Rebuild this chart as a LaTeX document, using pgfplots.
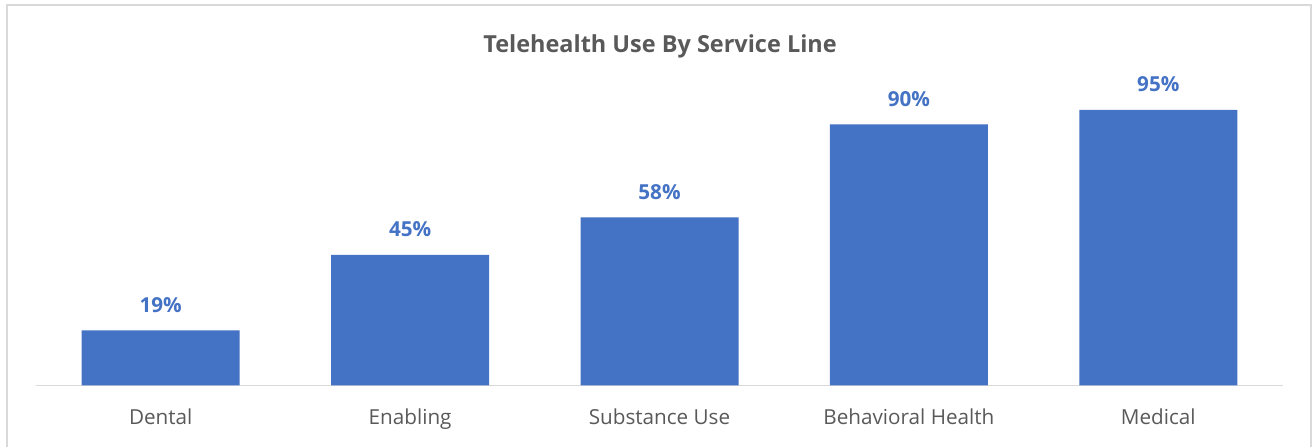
\documentclass[border=0pt]{standalone}
\usepackage{fontspec}
\setmainfont{Open Sans}
\usepackage{pgfplots}
\pgfplotsset{compat=1.18}
\definecolor{barblue}{HTML}{4472C4}
\definecolor{txtgray}{HTML}{595959}
\definecolor{linegray}{HTML}{D9D9D9}
\begin{document}
\begin{tikzpicture}
\useasboundingbox (-27pt,-46.1pt) rectangle (957pt,289.1pt);
\draw[linegray, line width=1.5pt] (-21.75pt,-60pt) -- (-21.75pt,285.4pt) -- (956.25pt,285.4pt) -- (956.25pt,-60pt);
\begin{axis}[
  at={(0,0)}, anchor=south west,
  scale only axis,
  width=935.25pt, height=217.5pt,
  ymin=0, ymax=100,
  xmin=-0.5, xmax=4.5,
  axis y line=none,
  axis x line*=bottom,
  x axis line style={linegray, line width=1pt, -},
  xtick=data,
  xticklabels={Dental,Enabling,Substance Use,Behavioral Health,Medical},
  major tick length=0pt,
  xticklabel style={font=\fontsize{15.5}{18}\selectfont, text=txtgray, anchor=base, yshift=-29.6pt},
  /pgf/number format/assume math mode=true,
  ybar, bar width=118.5pt,
  nodes near coords={\pgfmathprintnumber{\pgfplotspointmeta}\%},
  every node near coord/.append style={font=\bfseries\fontsize{15.5}{18}\selectfont, text=barblue, anchor=base, yshift=13.5pt},
  clip=false,
]
\addplot[fill=barblue, draw=none] coordinates {(0,19) (1,45) (2,58) (3,90) (4,95)};
\end{axis}
\node[anchor=base, font=\bfseries\fontsize{17.6}{20}\selectfont, text=txtgray] at (468pt,249.4pt) {Telehealth Use By Service Line};
\end{tikzpicture}
\end{document}
